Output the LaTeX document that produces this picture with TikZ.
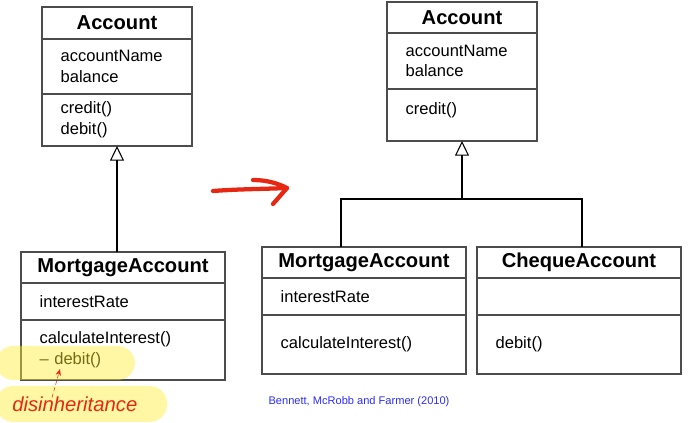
\documentclass[tikz,border=0pt]{standalone}
\usepackage{fontspec}
\setmainfont{Liberation Sans}
\usetikzlibrary{positioning,arrows.meta}
\definecolor{pen}{RGB}{230,40,18}
\definecolor{marker}{RGB}{255,238,50}
\definecolor{cite}{RGB}{45,45,250}
\tikzset{
  box/.style={draw=black!70, line width=1pt, outer sep=0pt, inner xsep=14pt, inner ysep=0pt, align=left,
    font=\fontsize{12.4}{15.5}\selectfont},
  title/.style={draw=black!70, line width=1pt, outer sep=0pt, inner sep=0pt, anchor=north west,
    font=\bfseries\fontsize{15.1}{18}\selectfont},
  inherit/.style={draw, line width=0.8pt, -{Triangle[open, width=10.5pt, length=11pt]}},
  link/.style={draw, line width=0.8pt},
  redpen/.style={draw=pen, line width=3.2pt, line cap=round, line join=round},
}
\begin{document}
\begin{tikzpicture}[x=0.75pt, y=-0.75pt]
\useasboundingbox (0,0) rectangle (697,423);
% before
\node[title, minimum width=112.5pt, minimum height=24pt] (acc) at (42,7) {Account};
\node[box, text width=84.5pt, minimum height=41.25pt, below=0pt of acc] (accattr) {accountName\\balance};
\node[box, text width=84.5pt, minimum height=39pt, below=0pt of accattr] (accops) {credit()\\debit()};
\node[title, minimum width=153pt, minimum height=23.25pt] (mort) at (21,252) {MortgageAccount};
\node[box, text width=125pt, minimum height=27.75pt, below=0pt of mort] (mortattr) {interestRate};
\node[box, text width=125pt, minimum height=45pt, below=0pt of mortattr] (mortops) {calculateInterest()\\\textendash{} debit()};
\path[inherit] (mort.north -| accops.south) -- (accops.south);
% after
\node[title, minimum width=112.5pt, minimum height=23.25pt] (accr) at (387,2) {Account};
\node[box, text width=84.5pt, minimum height=42pt, below=0pt of accr] (accrattr) {accountName\\balance};
\node[box, text width=84.5pt, minimum height=39pt, text depth=9pt, below=0pt of accrattr] (accrops) {credit()};
\node[title, minimum width=153pt, minimum height=23.25pt] (mortr) at (262,247) {MortgageAccount};
\node[box, text width=125pt, minimum height=27.75pt, below=0pt of mortr] (mortrattr) {interestRate};
\node[box, text width=125pt, minimum height=44.25pt, below=0pt of mortrattr] (mortrops) {calculateInterest()};
\node[title, minimum width=153pt, minimum height=23.25pt] (cheq) at (477,247) {ChequeAccount};
\node[box, text width=125pt, minimum height=27.75pt, below=0pt of cheq] (cheqattr) {};
\node[box, text width=125pt, minimum height=44.25pt, below=0pt of cheqattr] (cheqops) {debit()};
\coordinate (fork) at ([yshift=-43.5pt]accrops.south);
\path[inherit] (fork) -- (accrops.south);
\path[link] ([xshift=-17.25pt]mortr.north) |- (fork) -| ([xshift=2.25pt]cheq.north);
% hand-drawn arrow
\draw[redpen] (213,191) .. controls (240,189) and (265,189) .. (287,188);
\draw[redpen] (253,180) .. controls (268,180) and (279,184) .. (287,188) -- (273,204);
% highlights
\fill[marker, opacity=0.45, rounded corners=13pt] (-4,346) rectangle (135,380);
\fill[marker, opacity=0.45, rounded corners=13pt] (-4,386) rectangle (167,422);
\node[font=\itshape\fontsize{15.2}{18}\selectfont, text=pen, anchor=west, inner sep=0pt] (dis) at (12,404) {disinheritance};
\coordinate (tip) at (60,369);
\draw[pen, densely dashed, -{Stealth[length=5pt, width=4pt]}] ([xshift=30pt, yshift=-1pt]dis.north west) -- (tip);
\node[font=\fontsize{8.3}{10}\selectfont, text=cite] (ref) at (359,402) {Bennett, McRobb and Farmer (2010)};
\end{tikzpicture}
\end{document}
